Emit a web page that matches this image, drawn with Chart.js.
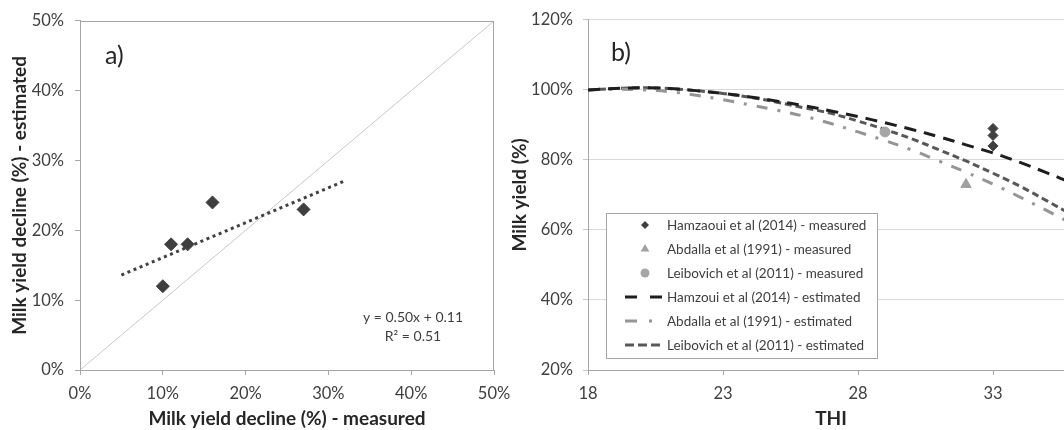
<!DOCTYPE html>
<html>
<head>
<meta charset="utf-8">
<script src="https://cdn.jsdelivr.net/npm/chart.js@4.4.1/dist/chart.umd.min.js"></script>
<style>
  html, body { margin: 0; padding: 0; background: #fff; }
  body { width: 1064px; height: 430px; overflow: hidden; position: relative; }
  #boxA { position: absolute; left: 0; top: 0; width: 520px; height: 430px; }
  #boxB { position: absolute; left: 500px; top: 0; width: 600px; height: 430px; }
</style>
</head>
<body>
<div id="boxA"><canvas id="chartA" width="520" height="430"></canvas></div>
<div id="boxB"><canvas id="chartB" width="600" height="430"></canvas></div>
<script>
// panel a) - measured vs estimated milk yield decline (%)
var measuredDecline = [10, 11, 13, 16, 27];
var estimatedDecline = [12, 18, 18, 24, 23];
var trendX = [5, 32];
var trendY = [13.6, 27.1];
var identityX = [0, 50];
var identityY = [0, 50];
var declineTicks = [0, 10, 20, 30, 40, 50];

// panel b) - milk yield (%) against THI
var thiValues = [18, 19, 20, 21, 22, 23, 24, 25, 26, 27, 28, 29, 30, 31, 32, 33, 34, 35, 36];
var hamzaouiEstimated = [100, 100.4, 100.6, 100.4, 99.8, 99, 98, 96.8, 95.5, 94, 92.4, 90.6, 88.7, 86.6, 84.3, 82, 79.3, 76.3, 73.2];
var abdallaEstimated = [100, 100.2, 100, 99.5, 98.5, 97.2, 95.7, 94.2, 92.5, 90.4, 88, 85.5, 82.8, 79.7, 76.5, 73.1, 69.4, 65.5, 61.5];
var leibovichEstimated = [100, 100.4, 100.6, 100.4, 99.8, 99, 97.9, 96.5, 94.9, 93.3, 91.1, 88.7, 86, 82.9, 79.7, 76.2, 72.5, 68.3, 64];
var hamzaouiThi = [33, 33, 33];
var hamzaouiMeasured = [89, 87, 84];
var abdallaThi = [32];
var abdallaMeasured = [73];
var leibovichThi = [29];
var leibovichMeasured = [88];
var thiTicks = [18, 23, 28, 33];
var yieldTicks = [20, 40, 60, 80, 100, 120];

Chart.defaults.font.family = 'Lato';
Chart.defaults.color = '#404040';

function pairs(xs, ys) {
  return xs.map(function (x, i) { return { x: x, y: ys[i] }; });
}
function pct(v) { return v + '%'; }

var axisGrey = '#a6a6a6';
var tickFont = { size: 16.5 };
var titleFont = { size: 19, weight: 'bold' };

// legend markers, same shapes as the chart points
function marker(ctx, style, r, x, y) {
  ctx.beginPath();
  if (style === 'rectRot') {
    ctx.moveTo(x - r, y); ctx.lineTo(x, y - r); ctx.lineTo(x + r, y); ctx.lineTo(x, y + r);
  } else if (style === 'triangle') {
    var h = r * 1.5, w = r * Math.sqrt(3) / 2;
    ctx.moveTo(x, y - r); ctx.lineTo(x + w, y + h - r); ctx.lineTo(x - w, y + h - r);
  } else {
    ctx.arc(x, y, r, 0, Math.PI * 2);
  }
  ctx.closePath();
  ctx.fill();
}

// draws loose texts, the frame of panel a and the legend of panel b
var extras = {
  id: 'extras',
  afterDraw: function (chart, args, opts) {
    var ctx = chart.ctx;
    var area = chart.chartArea;
    ctx.save();
    if (opts.frame) {
      ctx.strokeStyle = axisGrey;
      ctx.lineWidth = 1;
      ctx.strokeRect(Math.round(area.left) + 0.5, Math.round(area.top) + 0.5,
        Math.round(area.right - area.left) - 1, Math.round(area.bottom - area.top));
    }
    (opts.texts || []).forEach(function (t) {
      ctx.font = (t.weight || 'normal') + ' ' + t.size + 'px Lato';
      ctx.fillStyle = t.color || '#262626';
      ctx.textAlign = t.align || 'left';
      ctx.textBaseline = 'alphabetic';
      ctx.fillText(t.text, area.left + t.dx, area.top + t.dy);
    });
    if (opts.legend) {
      var L = opts.legend;
      var x0 = Math.round(area.left + L.dx), y0 = Math.round(area.top + L.dy);
      ctx.fillStyle = '#fff';
      ctx.fillRect(x0, y0, L.w, L.h);
      ctx.strokeStyle = axisGrey;
      ctx.lineWidth = 1;
      ctx.strokeRect(x0 + 0.5, y0 + 0.5, L.w, L.h);
      chart.data.datasets.forEach(function (ds, i) {
        var y = y0 + L.firstRow + i * L.rowGap;
        ctx.save();
        if (ds.showLine === false) {
          ctx.fillStyle = ds.backgroundColor;
          marker(ctx, ds.pointStyle, ds.legendRadius, x0 + L.markerX, y);
        } else {
          ctx.strokeStyle = ds.borderColor;
          ctx.lineWidth = ds.borderWidth;
          ctx.setLineDash(ds.legendDash || ds.borderDash || []);
          ctx.beginPath();
          ctx.moveTo(x0 + L.lineFrom, y);
          ctx.lineTo(x0 + L.lineTo, y);
          ctx.stroke();
        }
        ctx.restore();
        ctx.font = L.size + 'px Lato';
        ctx.textBaseline = 'middle';
        ctx.textAlign = 'left';
        ctx.fillStyle = '#404040';
        ctx.fillText(ds.label, x0 + L.textX, y + 1);
      });
    }
    ctx.restore();
  }
};

new Chart(document.getElementById('chartA'), {
  type: 'scatter',
  data: {
    datasets: [{
      label: 'measured vs estimated',
      data: pairs(measuredDecline, estimatedDecline),
      pointStyle: 'rectRot',
      pointRadius: 6.5,
      backgroundColor: '#3f3f3f',
      borderColor: '#3f3f3f',
      borderWidth: 1
    }, {
      label: 'linear trend',
      data: pairs(trendX, trendY),
      showLine: true,
      pointRadius: 0,
      borderColor: '#404040',
      borderWidth: 3,
      borderDash: [3, 3.6]
    }, {
      label: '1:1',
      data: pairs(identityX, identityY),
      showLine: true,
      pointRadius: 0,
      borderColor: '#c8c8c8',
      borderWidth: 1
    }]
  },
  options: {
    responsive: false,
    animation: false,
    layout: { padding: { left: 8, top: 17, right: 26, bottom: 0 } },
    plugins: {
      legend: { display: false },
      tooltip: { enabled: false },
      extras: {
        frame: true,
        texts: [
          { text: 'a)', size: 25, dx: 25, dy: 43 },
          { text: 'y = 0.50x + 0.11', size: 14, dx: 333, dy: 301, align: 'center', color: '#404040' },
          { text: 'R\u00b2 = 0.51', size: 14, dx: 333, dy: 320, align: 'center', color: '#404040' }
        ]
      }
    },
    scales: {
      x: {
        type: 'linear', min: 0, max: 50,
        afterBuildTicks: function (s) { s.ticks = declineTicks.map(function (v) { return { value: v }; }); },
        afterFit: function (s) { s.height = 60; },
        ticks: { callback: pct, font: tickFont, color: '#404040', padding: 9, maxRotation: 0 },
        grid: { drawOnChartArea: false, tickLength: 5, color: axisGrey },
        border: { color: axisGrey },
        title: { display: true, text: 'Milk yield decline (%) - measured', font: titleFont, color: '#262626', padding: { top: 0, bottom: 0 } }
      },
      y: {
        type: 'linear', min: 0, max: 50,
        afterBuildTicks: function (s) { s.ticks = declineTicks.map(function (v) { return { value: v }; }); },
        afterFit: function (s) { s.width = 72; },
        ticks: { callback: pct, font: tickFont, color: '#404040', padding: 11 },
        grid: { drawOnChartArea: false, tickLength: 5, color: axisGrey },
        border: { color: axisGrey },
        title: { display: true, text: 'Milk yield decline (%) - estimated', font: titleFont, color: '#262626', padding: { top: 0, bottom: 0 } }
      }
    }
  },
  plugins: [extras]
});

new Chart(document.getElementById('chartB'), {
  type: 'line',
  data: {
    datasets: [{
      label: 'Hamzaoui et al (2014) - measured',
      data: pairs(hamzaouiThi, hamzaouiMeasured),
      showLine: false,
      pointStyle: 'rectRot',
      pointRadius: 5,
      legendRadius: 4,
      backgroundColor: '#404040',
      borderColor: '#404040'
    }, {
      label: 'Abdalla et al (1991) - measured',
      data: pairs(abdallaThi, abdallaMeasured),
      showLine: false,
      pointStyle: 'triangle',
      pointRadius: 6,
      legendRadius: 5,
      backgroundColor: '#a0a0a0',
      borderColor: '#a0a0a0'
    }, {
      label: 'Leibovich et al (2011) - measured',
      data: pairs(leibovichThi, leibovichMeasured),
      showLine: false,
      pointStyle: 'circle',
      pointRadius: 5,
      legendRadius: 4.5,
      backgroundColor: '#a6a6a6',
      borderColor: '#a6a6a6'
    }, {
      label: 'Hamzoui et al (2014) - estimated',
      data: pairs(thiValues, hamzaouiEstimated),
      borderColor: '#1e1e1e',
      borderWidth: 3,
      borderDash: [12, 8],
      legendDash: [12, 13],
      pointRadius: 0,
      tension: 0.4
    }, {
      label: 'Abdalla et al (1991) - estimated',
      data: pairs(thiValues, abdallaEstimated),
      borderColor: '#959595',
      borderWidth: 3,
      borderDash: [11, 10, 3, 10],
      legendDash: [12, 12, 3, 20],
      pointRadius: 0,
      tension: 0.4
    }, {
      label: 'Leibovich et al (2011) - estimated',
      data: pairs(thiValues, leibovichEstimated),
      borderColor: '#585858',
      borderWidth: 3,
      borderDash: [7, 4],
      legendDash: [9, 4],
      pointRadius: 0,
      tension: 0.4
    }]
  },
  options: {
    responsive: false,
    animation: false,
    layout: { padding: { left: 8, top: 17, right: 26, bottom: 0 } },
    plugins: {
      legend: { display: false },
      tooltip: { enabled: false },
      extras: {
        texts: [{ text: 'b)', size: 25, dx: 23, dy: 41 }],
        legend: { dx: 18, dy: 193, w: 271, h: 145, size: 13.5, firstRow: 12, rowGap: 24,
          markerX: 39, lineFrom: 19, lineTo: 56, textX: 61 }
      }
    },
    scales: {
      x: {
        type: 'linear', min: 18, max: 36,
        afterBuildTicks: function (s) { s.ticks = thiTicks.map(function (v) { return { value: v }; }); },
        afterFit: function (s) { s.height = 60; },
        ticks: { font: tickFont, color: '#404040', padding: 9, maxRotation: 0 },
        grid: { drawOnChartArea: false, tickLength: 5, color: axisGrey },
        border: { color: axisGrey },
        title: { display: true, text: 'THI', font: titleFont, color: '#262626', padding: { top: 0, bottom: 0 } }
      },
      y: {
        type: 'linear', min: 20, max: 120,
        afterBuildTicks: function (s) { s.ticks = yieldTicks.map(function (v) { return { value: v }; }); },
        afterFit: function (s) { s.width = 80; },
        ticks: { callback: pct, font: tickFont, color: '#404040', padding: 10 },
        grid: { color: '#d9d9d9', tickColor: '#c8c8c8', tickLength: 5 },
        border: { color: axisGrey },
        title: { display: true, text: 'Milk yield (%)', font: titleFont, color: '#262626', padding: { top: 0, bottom: 0 } }
      }
    }
  },
  plugins: [extras]
});
</script>
</body>
</html>
